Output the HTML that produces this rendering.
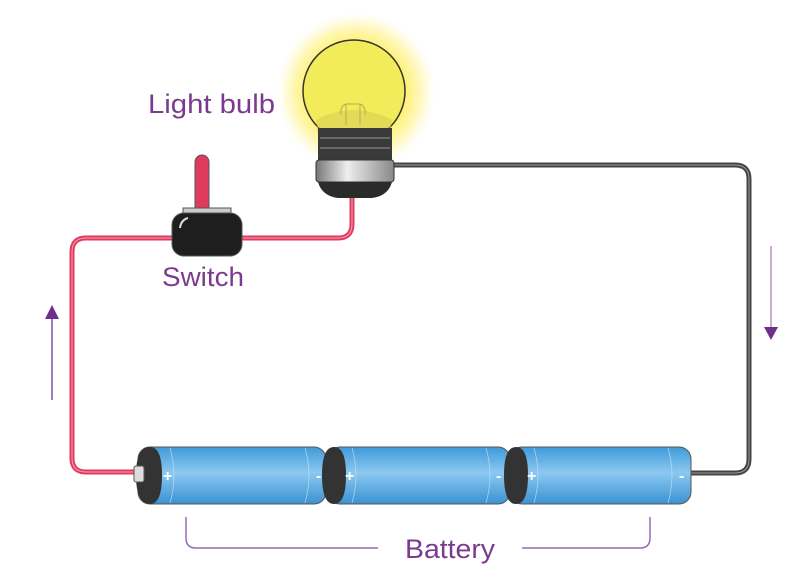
<!DOCTYPE html>
<html><head><meta charset="utf-8"><style>html,body{margin:0;padding:0;background:#fff}svg{display:block}</style></head>
<body>
<svg width="804" height="584" viewBox="0 0 804 584" xmlns="http://www.w3.org/2000/svg">
<defs>
<radialGradient id="glow" cx="0.5" cy="0.5" r="0.5">
<stop offset="0.6" stop-color="#fff06a" stop-opacity="1"/>
<stop offset="0.8" stop-color="#fff49a" stop-opacity="0.7"/>
<stop offset="1" stop-color="#fffbd0" stop-opacity="0"/>
</radialGradient>
<linearGradient id="bat" x1="0" y1="0" x2="0" y2="1">
<stop offset="0" stop-color="#3e9ad8"/>
<stop offset="0.45" stop-color="#8cc8f0"/>
<stop offset="1" stop-color="#3a92d2"/>
</linearGradient>
<linearGradient id="silver" x1="0" y1="0" x2="1" y2="0">
<stop offset="0" stop-color="#777"/><stop offset="0.4" stop-color="#eee"/><stop offset="1" stop-color="#888"/>
</linearGradient>
</defs>
<circle cx="356" cy="92" r="80" fill="url(#glow)"/>
<path d="M140 472 H86 Q72 472 72 458 V252 Q72 238 86 238 H338 Q352 238 352 224 V195" fill="none" stroke="#e03a5e" stroke-width="5"/>
<path d="M140 472 H86 Q72 472 72 458 V252 Q72 238 86 238 H338 Q352 238 352 224 V195" fill="none" stroke="#f8a0b4" stroke-width="1"/>
<path d="M390 165 H735 Q749 165 749 179 V459 Q749 473 735 473 H688" fill="none" stroke="#444" stroke-width="5"/>
<path d="M390 165 H735 Q749 165 749 179 V459 Q749 473 735 473 H688" fill="none" stroke="#999" stroke-width="1"/>
<circle cx="354" cy="91" r="51" fill="#f3ec5a" stroke="#333" stroke-width="1.5"/>
<path d="M316 120 Q354 100 392 120 L390 135 H318 Z" fill="#d8cf55" opacity="0.6"/>
<path d="M341 115 Q340 106 346 104 H360 Q366 106 365 115 M346 104 V125 M360 104 V125" fill="none" stroke="#b8aa50" stroke-width="1"/>
<path d="M318 128 H392 V160 H318 Z" fill="#3a3a3a"/>
<path d="M320 138 H390 M320 148 H390" stroke="#777" stroke-width="1.5"/>
<rect x="316" y="160" width="78" height="22" rx="3" fill="url(#silver)" stroke="#333"/>
<path d="M318 182 H392 Q388 196 372 198 H338 Q322 196 318 182 Z" fill="#2b2b2b"/>
<rect x="195" y="155" width="14" height="62" rx="7" fill="#e03a5e" stroke="#555" stroke-width="1"/>
<rect x="183" y="208" width="48" height="8" fill="#ccc" stroke="#555"/>
<rect x="172" y="213" width="70" height="43" rx="12" fill="#1e1e1e" stroke="#555"/>
<path d="M180 228 Q181 220 188 218" stroke="#ddd" stroke-width="2" fill="none"/>
<g stroke="#555" stroke-width="1">
<rect x="138" y="447" width="188" height="57" rx="12" fill="url(#bat)"/>
<rect x="328" y="447" width="182" height="57" rx="12" fill="url(#bat)"/>
<rect x="510" y="447" width="181" height="57" rx="12" fill="url(#bat)"/>
</g>
<path d="M150 447 Q136 447 136 475 Q136 504 150 504 Q162 504 162 475 Q162 447 150 447Z" fill="#333"/>
<rect x="134" y="466" width="10" height="16" rx="2" fill="#ddd" stroke="#555"/>
<path d="M334 447 Q322 447 322 475 Q322 504 334 504 Q346 504 346 475 Q346 447 334 447Z" fill="#333"/>
<path d="M516 447 Q504 447 504 475 Q504 504 516 504 Q528 504 528 475 Q528 447 516 447Z" fill="#333"/>
<g stroke="#bfe0f7" stroke-width="0.8" fill="none" opacity="0.8">
<path d="M170 448 Q178 475 170 503"/><path d="M305 448 Q313 475 305 503"/>
<path d="M352 448 Q360 475 352 503"/><path d="M486 448 Q494 475 486 503"/>
<path d="M534 448 Q542 475 534 503"/><path d="M668 448 Q676 475 668 503"/>
</g>
<g fill="#fff" font-family="Liberation Sans, sans-serif" font-size="16" font-weight="bold">
<text x="163" y="481">+</text><text x="316" y="481">-</text>
<text x="345" y="481">+</text><text x="496" y="481">-</text>
<text x="527" y="481">+</text><text x="679" y="481">-</text>
</g>
<line x1="52" y1="318" x2="52" y2="400" stroke="#8a4ea0" stroke-width="1.5"/>
<path d="M45 319 L52 305 L59 319 Z" fill="#6d2f8a"/>
<line x1="771" y1="246" x2="771" y2="328" stroke="#b88cc6" stroke-width="1.5"/>
<path d="M764 327 L771 340 L778 327 Z" fill="#6d2f8a"/>
<path d="M186 517 V538 Q186 548 196 548 H378 M522 548 H640 Q650 548 650 538 V517" fill="none" stroke="#9a6ab0" stroke-width="1.5"/>
<g fill="#7a3b8e" font-family="Liberation Sans, sans-serif" font-size="27">
<text x="148" y="113" textLength="127" lengthAdjust="spacingAndGlyphs">Light bulb</text>
<text x="162" y="286" textLength="82" lengthAdjust="spacingAndGlyphs">Switch</text>
<text x="405" y="558" textLength="90" lengthAdjust="spacingAndGlyphs">Battery</text>
</g>
</svg>
</body></html>
